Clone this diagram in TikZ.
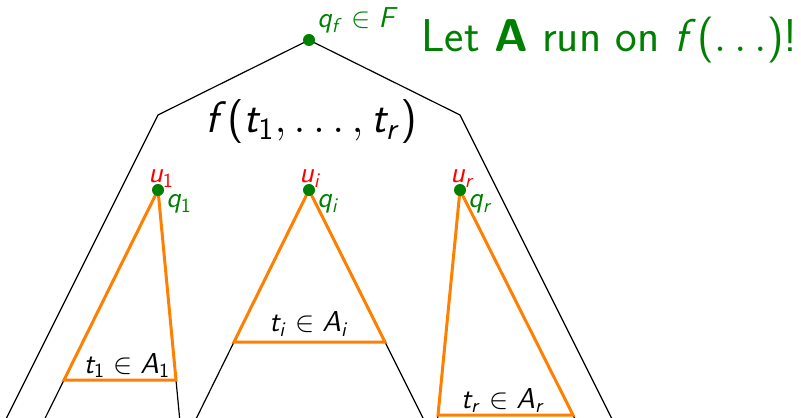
\RequirePackage{fix-cm}
\documentclass[tikz,border=0pt]{standalone}
\usetikzlibrary{calc}
\definecolor{rungreen}{rgb}{0,0.5,0}
\definecolor{runorange}{rgb}{1,0.5,0}
% sans serif math letters, as on a slide
\DeclareSymbolFont{sfletters}{OT1}{cmss}{m}{sl}
\DeclareSymbolFont{sfupright}{OT1}{cmss}{m}{n}
\DeclareMathSymbol{f}{\mathalpha}{sfletters}{`f}
\DeclareMathSymbol{t}{\mathalpha}{sfletters}{`t}
\DeclareMathSymbol{q}{\mathalpha}{sfletters}{`q}
\DeclareMathSymbol{u}{\mathalpha}{sfletters}{`u}
\DeclareMathSymbol{r}{\mathalpha}{sfletters}{`r}
\DeclareMathSymbol{i}{\mathalpha}{sfletters}{`i}
\DeclareMathSymbol{A}{\mathalpha}{sfletters}{`A}
\DeclareMathSymbol{F}{\mathalpha}{sfletters}{`F}
\DeclareMathSymbol{1}{\mathalpha}{sfupright}{`1}
\DeclareMathSymbol{(}{\mathopen}{sfupright}{`(}
\DeclareMathSymbol{)}{\mathclose}{sfupright}{`)}

\begin{document}
\begin{tikzpicture}[x=0.5pt, y=0.5pt,
  edge/.style={line width=0.6pt},
  runtri/.style={draw=runorange, line width=1.5pt},
  dot/.style={circle, fill=rungreen, inner sep=0pt, minimum size=6pt},
  lab/.style={font=\sffamily\Large, inner sep=0pt},
  big/.style={font=\sffamily\fontsize{22}{27}\selectfont, inner sep=0pt}]
\useasboundingbox (0,0) rectangle (801,417);
\clip (0,0) rectangle (801,417);
% the term f(t_1,...,t_r)
\coordinate (root) at (309,377);
\coordinate (sl) at (158,302);
\coordinate (sr) at (460,302);
\coordinate (ol) at (-13,-40);
\coordinate (or) at (631,-40);
\draw[edge] (ol) -- (sl) -- (root) -- (sr) -- (or);
% subterms and their runs
\coordinate (a1) at (158,227);
\coordinate (ai) at (309,227);
\coordinate (ar) at (460,227);
\coordinate (l1) at (64,37);   \coordinate (r1) at (176,37);
\coordinate (li) at (234,75);  \coordinate (ri) at (385,75);
\coordinate (lr) at (438,2);   \coordinate (rr) at (573,2);
\foreach \n/\f in {1/1.3, i/1.6, r/1.2}
  \draw[edge] ($(a\n)!\f!(l\n)$) -- (a\n) -- ($(a\n)!\f!(r\n)$);
\foreach \n in {1, i, r}
  \draw[runtri] (a\n) -- (l\n) -- (r\n) -- cycle;
\foreach \n/\x/\y in {1/127/44, i/309/85, r/503/9}
  \node[lab, anchor=base] (t\n) at (\x,\y) {$t_\n \in A_\n$};
% states
\node[dot] (qf) at (root) {};
\foreach \n in {1, i, r} {
  \node[dot] (u\n) at (a\n) {};
  \node[lab, text=red, anchor=base west] (lu\n) at ($(a\n)+(-10,7)$) {$u_\n$};
  \node[lab, text=rungreen, anchor=base west] (lq\n) at ($(a\n)+(8,-18)$) {$q_\n$};
}
\node[lab, text=rungreen, anchor=base west] (lqf) at ($(root)+(8,12)$) {$q_f \in F$};
\node[big, anchor=base] (term) at (311,284) {$f(t_1,\ldots,t_r)$};
\node[big, text=rungreen, anchor=base west, font=\sffamily\fontsize{23}{27}\selectfont]
  (say) at (421,365) {Let \textbf{A} run on $f(\ldots)$!};
\end{tikzpicture}
\end{document}
